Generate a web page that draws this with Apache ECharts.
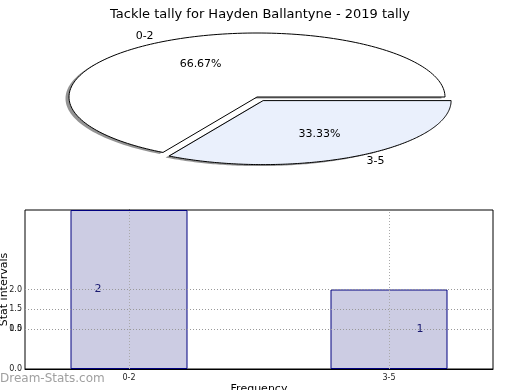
<!DOCTYPE html>
<html>
<head>
<meta charset="utf-8">
<script src="https://cdn.jsdelivr.net/npm/echarts@6/dist/echarts.min.js"></script>
<style>html,body{margin:0;padding:0;background:#fff;}#c{width:520px;height:390px;}</style>
</head>
<body>
<div id="c"></div>
<script>
// ---- data ----
const titleText = 'Tackle tally for Hayden Ballantyne - 2019 tally';
const pieNames = ['0-2', '3-5'];
const pieValues = [2, 1];
const pieExplode = [0, 0.065];
const pieColors = ['#ffffff', '#eaf0fc'];
const barCategories = ['0-2', '3-5'];
const barValues = [2, 1];
const barLabelTexts = ['2', '1'];
const yTickValues = [0, 0.5, 0.5, 0.75, 1.0];
const yTickLabels = ['0.0', '0.5', '1.0', '1.5', '2.0'];
const yGridValues = [0.5, 0.75, 1.0];
const yAxisName = 'Stat intervals';
const xAxisName = 'Frequency';
const watermark = 'Dream-Stats.com';

// ---- layout ----
const PIE = { cx: 257, cy: 97, rx: 188, ry: 64 };
const FONT = 'DejaVu Sans';

const pieTotal = pieValues.reduce((a, b) => a + b, 0);

function pieRender(params, api) {
  const i = params.dataIndex;
  const v = api.value(0);
  let start = 0;
  for (let k = 0; k < i; k++) start += pieValues[k];
  const a0 = start / pieTotal * 2 * Math.PI;
  const a1 = (start + v) / pieTotal * 2 * Math.PI;
  const mid = (a0 + a1) / 2;
  const ex = pieExplode[i];
  const cx = PIE.cx + ex * PIE.rx * Math.cos(mid);
  const cy = PIE.cy - ex * PIE.ry * Math.sin(mid);
  function pts(ox, oy) {
    const p = [[cx + ox, cy + oy]];
    const n = 160;
    for (let s = 0; s <= n; s++) {
      const a = a0 + (a1 - a0) * s / n;
      p.push([cx + ox + PIE.rx * Math.cos(a), cy + oy - PIE.ry * Math.sin(a)]);
    }
    return p;
  }
  const lx = cx + 1.1 * PIE.rx * Math.cos(mid);
  const ly = cy - 1.1 * PIE.ry * Math.sin(mid);
  const px = cx + 0.6 * PIE.rx * Math.cos(mid);
  const py = cy - 0.6 * PIE.ry * Math.sin(mid);
  const pct = (v / pieTotal * 100).toFixed(2) + '%';
  return {
    type: 'group',
    children: [
      { type: 'polygon', z2: 1, shape: { points: pts(-3.5, 1.5) },
        style: { fill: 'rgba(60,60,60,0.55)', stroke: null } },
      { type: 'polygon', z2: 10, shape: { points: pts(0, 0) },
        style: { fill: pieColors[i], stroke: '#000', lineWidth: 1, lineJoin: 'miter' } },
      { type: 'text', z2: 20, style: { text: pieNames[i], x: lx, y: ly,
        align: Math.cos(mid) > 0 ? 'left' : 'right', verticalAlign: 'middle',
        fontSize: 11, fontFamily: FONT, fill: '#000' } },
      { type: 'text', z2: 20, style: { text: pct, x: px, y: py, align: 'center', verticalAlign: 'middle',
        fontSize: 11, fontFamily: FONT, fill: '#000' } }
    ]
  };
}

function yFmt(axisIdx) {
  return function (val) {
    const m = [];
    for (let k = 0; k < yTickValues.length; k++) if (Math.abs(yTickValues[k] - val) < 1e-6) m.push(yTickLabels[k]);
    if (m.length === 0) return '';
    if (axisIdx === 0) return m[m.length - 1];
    return m.length > 1 ? m[0] : '';
  };
}

const gridLineStyle = { color: '#999', type: [1, 2], width: 1 };
const markData = yGridValues.map(v => ({ yAxis: v, lineStyle: gridLineStyle }))
  .concat(barCategories.map((c, i) => ({ xAxis: i, lineStyle: { color: '#aaa', type: [1, 2], width: 1 } })));

const yAxisBase = {
  type: 'value', min: 0, max: 2, interval: 0.25, position: 'left',
  splitLine: { show: false }, axisTick: { show: false },
  axisLabel: { fontSize: 8, fontFamily: FONT, color: '#222', margin: 3, showMaxLabel: false }
};

const option = {
  animation: false,
  backgroundColor: '#fff',
  title: { text: titleText, left: 'center', top: 3,
    textStyle: { fontSize: 13, fontWeight: 'normal', fontFamily: FONT, color: '#000' } },
  graphic: [{ type: 'text', left: 0, top: 373, z: 100,
    style: { text: watermark, fontSize: 12, fontFamily: FONT, fill: '#a0a0a0' } }],
  grid: { left: 25, right: 27, top: 210, bottom: 21, containLabel: false, outerBoundsMode: 'none',
    show: true, borderColor: '#000', borderWidth: 1, backgroundColor: 'transparent' },
  xAxis: {
    type: 'value', min: -0.4, max: 1.4, interval: 0.2,
    name: xAxisName, nameLocation: 'middle', nameGap: 15, nameMoveOverlap: false,
    nameTextStyle: { fontSize: 11, fontFamily: FONT, color: '#000' },
    splitLine: { show: false }, axisTick: { show: false },
    axisLine: { lineStyle: { color: '#000' } },
    axisLabel: { fontSize: 8, fontFamily: FONT, color: '#222', margin: 5,
      formatter: function (val) {
        const r = Math.round(val);
        if (Math.abs(val - r) < 1e-6 && r >= 0 && r < barCategories.length) return barCategories[r];
        return '';
      } }
  },
  yAxis: [
    Object.assign({}, yAxisBase, {
      name: yAxisName, nameLocation: 'middle', nameGap: 15, nameRotate: 90, nameMoveOverlap: false,
      nameTextStyle: { fontSize: 11, fontFamily: FONT, color: '#000' },
      axisLine: { show: true, lineStyle: { color: '#000' } },
      axisLabel: Object.assign({}, yAxisBase.axisLabel, { formatter: yFmt(0) })
    }),
    Object.assign({}, yAxisBase, {
      axisLine: { show: false },
      axisLabel: Object.assign({}, yAxisBase.axisLabel, { formatter: yFmt(1) })
    })
  ],
  series: [
    {
      type: 'custom', coordinateSystem: 'none', renderItem: pieRender,
      data: pieValues.map((v, i) => ({ name: pieNames[i], value: [v] }))
    },
    {
      type: 'bar', xAxisIndex: 0, yAxisIndex: 0, barWidth: 117,
      itemStyle: { color: '#ccccE3', borderColor: '#000080', borderWidth: 1 },
      label: { show: true, position: 'inside', fontSize: 11, fontFamily: FONT, color: '#1a1a70',
        formatter: p => barLabelTexts[p.dataIndex] },
      data: barValues.map((v, i) => ({ value: [i, v], label: { offset: [i === 0 ? -31 : 31, 0] } })),
      markLine: { silent: true, symbol: 'none', label: { show: false }, data: markData, z: 5 }
    }
  ]
};

const chart = echarts.init(document.getElementById('c'), null, { renderer: 'canvas' });
chart.setOption(option);
</script>
</body>
</html>
